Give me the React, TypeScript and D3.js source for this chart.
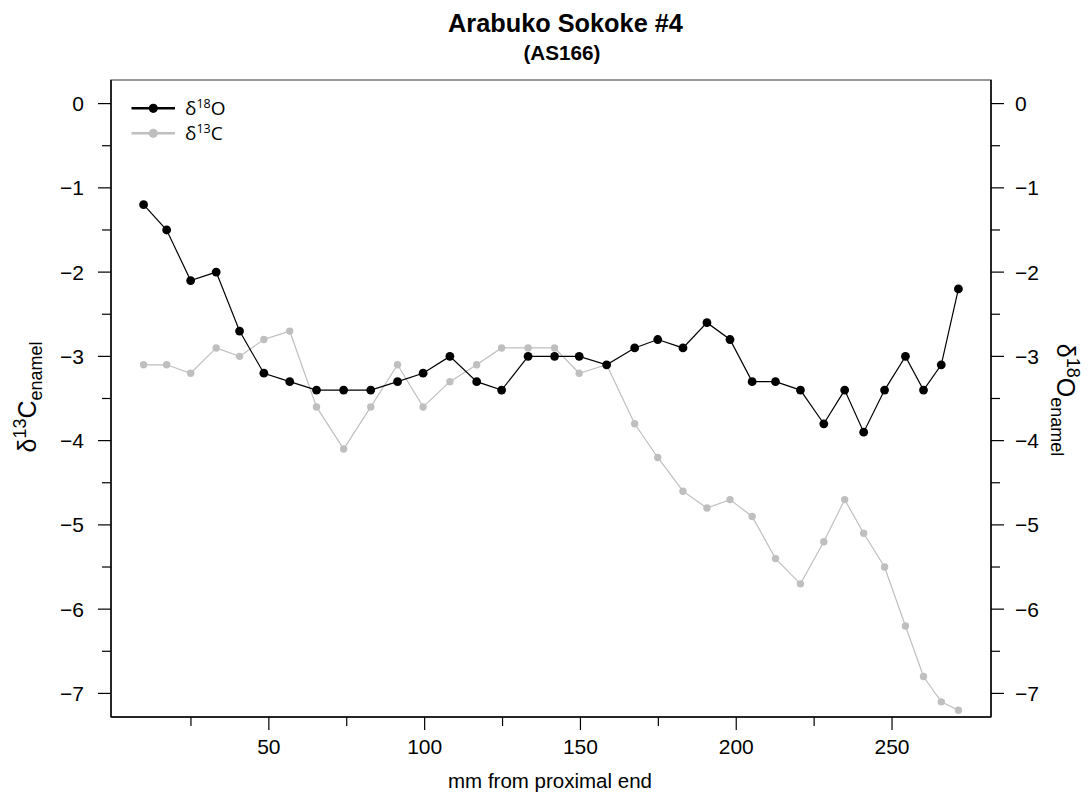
import React from "react";
import * as d3 from "d3";

// distance from proximal end (mm)
const mm = [9.8, 17.2, 24.9, 33.1, 40.6, 48.4, 56.7, 65.3, 74.0, 82.7, 91.3, 99.5, 108.1, 116.7, 124.7, 133.2, 141.7, 149.6, 158.4, 167.4, 174.8, 182.9, 190.6, 198.0, 205.1, 212.6, 220.6, 228.1, 234.8, 240.9, 247.6, 254.3, 260.1, 265.8, 271.3];
const d18O = [-1.2, -1.5, -2.1, -2.0, -2.7, -3.2, -3.3, -3.4, -3.4, -3.4, -3.3, -3.2, -3.0, -3.3, -3.4, -3.0, -3.0, -3.0, -3.1, -2.9, -2.8, -2.9, -2.6, -2.8, -3.3, -3.3, -3.4, -3.8, -3.4, -3.9, -3.4, -3.0, -3.4, -3.1, -2.2];
const d13C = [-3.1, -3.1, -3.2, -2.9, -3.0, -2.8, -2.7, -3.6, -4.1, -3.6, -3.1, -3.6, -3.3, -3.1, -2.9, -2.9, -2.9, -3.2, -3.1, -3.8, -4.2, -4.6, -4.8, -4.7, -4.9, -5.4, -5.7, -5.2, -4.7, -5.1, -5.5, -6.2, -6.8, -7.1, -7.2];

const xMajorTicks = [50, 100, 150, 200, 250];
const xMinorTicks = [25, 75, 125, 175, 225];
const yMajorTicks = [0, -1, -2, -3, -4, -5, -6, -7];
const yMinorTicks = [-0.5, -1.5, -2.5, -3.5, -4.5, -5.5, -6.5];

const W = 1090, H = 796;
const L = 111, R = 991, T = 80, B = 717;
const FONT = "'Liberation Sans', Arial, Helvetica, sans-serif";
const GREY = "#bfbfbf";

export default function App() {
  const xExt = d3.extent(mm) as [number, number];
  const xr = xExt[1] - xExt[0];
  const x = d3.scaleLinear().domain([xExt[0] - 0.04 * xr, xExt[1] + 0.04 * xr]).range([L, R]);
  const y = d3.scaleLinear().domain([-7.28, 0.28]).range([B, T]);

  const pts = (vals: number[]) => mm.map((m, i) => [m, vals[i]] as [number, number]);
  const line = d3.line<[number, number]>().x(d => x(d[0])).y(d => y(d[1]));
  const minus = (v: number) => (v < 0 ? "\u2212" + Math.abs(v) : String(v));

  return (
    <svg width={W} height={H} style={{ position: "absolute", left: 0, top: 0, background: "#fff" }} fontFamily={FONT}>
      <rect x={0} y={0} width={W} height={H} fill="#fff" />
      {/* title */}
      <text x={565.5} y={32} textAnchor="middle" fontWeight="bold" fontSize={25.3}>Arabuko Sokoke #4</text>
      <text x={562} y={60} textAnchor="middle" fontWeight="bold" fontSize={20.7}>(AS166)</text>

      {/* box */}
      <rect x={L} y={T} width={R - L} height={B - T} fill="none" stroke="#777" strokeWidth={1.5} />
      <line x1={L} x2={L} y1={T} y2={B} stroke="#000" strokeWidth={1.5} />
      <line x1={R} x2={R} y1={T} y2={B} stroke="#000" strokeWidth={1.5} />
      <line x1={L} x2={R} y1={B} y2={B} stroke="#000" strokeWidth={1.5} />

      {/* y ticks left and right */}
      {yMajorTicks.map(t => (
        <g key={"ym" + t}>
          <line x1={L - 13} x2={L} y1={y(t)} y2={y(t)} stroke="#000" strokeWidth={1.2} />
          <line x1={R} x2={R + 13} y1={y(t)} y2={y(t)} stroke="#000" strokeWidth={1.2} />
          <text x={L - 27} y={y(t) + 7.5} textAnchor="end" fontSize={21}>{minus(t)}</text>
          <text x={R + 24} y={y(t) + 7.5} textAnchor="start" fontSize={21}>{minus(t)}</text>
        </g>
      ))}
      {yMinorTicks.map(t => (
        <g key={"yn" + t}>
          <line x1={L - 9} x2={L} y1={y(t)} y2={y(t)} stroke="#000" strokeWidth={1.2} />
          <line x1={R} x2={R + 9} y1={y(t)} y2={y(t)} stroke="#000" strokeWidth={1.2} />
        </g>
      ))}

      {/* x ticks */}
      {xMajorTicks.map(t => (
        <g key={"xm" + t}>
          <line x1={x(t)} x2={x(t)} y1={B} y2={B + 13} stroke="#000" strokeWidth={1.2} />
          <text x={x(t)} y={754} textAnchor="middle" fontSize={21}>{t}</text>
        </g>
      ))}
      {xMinorTicks.map(t => (
        <line key={"xn" + t} x1={x(t)} x2={x(t)} y1={B} y2={B + 9} stroke="#000" strokeWidth={1.2} />
      ))}

      {/* axis titles */}
      <text x={550} y={788} textAnchor="middle" fontSize={20.5}>mm from proximal end</text>
      <text transform="translate(36,397) rotate(-90)" textAnchor="middle" fontSize={25}>
        δ<tspan fontSize={18} dy={-10}>13</tspan><tspan dy={10}>C</tspan><tspan fontSize={18} dy={6}>enamel</tspan>
      </text>
      <text transform="translate(1057,400) rotate(90)" textAnchor="middle" fontSize={25}>
        δ<tspan fontSize={18} dy={-10}>18</tspan><tspan dy={10}>O</tspan><tspan fontSize={18} dy={6}>enamel</tspan>
      </text>

      {/* d13C series */}
      <path d={line(pts(d13C)) || ""} fill="none" stroke={GREY} strokeWidth={1.2} />
      {pts(d13C).map((p, i) => (
        <circle key={"c" + i} cx={x(p[0])} cy={y(p[1])} r={3.7} fill={GREY} />
      ))}
      {/* d18O series */}
      <path d={line(pts(d18O)) || ""} fill="none" stroke="#000" strokeWidth={1.2} />
      {pts(d18O).map((p, i) => (
        <circle key={"o" + i} cx={x(p[0])} cy={y(p[1])} r={4.4} fill="#000" />
      ))}

      {/* legend */}
      <line x1={131.5} x2={175} y1={108.3} y2={108.3} stroke="#000" strokeWidth={2.6} />
      <circle cx={153.3} cy={108.3} r={4.6} fill="#000" />
      <text x={185} y={114.5} fontSize={19} fontFamily="'Open Sans', sans-serif">
        δ<tspan fontSize={12.5} dy={-6.5}>18</tspan><tspan dy={6.5}>O</tspan>
      </text>
      <line x1={131.5} x2={175} y1={133.3} y2={133.3} stroke={GREY} strokeWidth={2.6} />
      <circle cx={153.3} cy={133.3} r={4.6} fill={GREY} />
      <text x={185} y={139.5} fontSize={19} fontFamily="'Open Sans', sans-serif">
        δ<tspan fontSize={12.5} dy={-6.5}>13</tspan><tspan dy={6.5}>C</tspan>
      </text>
    </svg>
  );
}
